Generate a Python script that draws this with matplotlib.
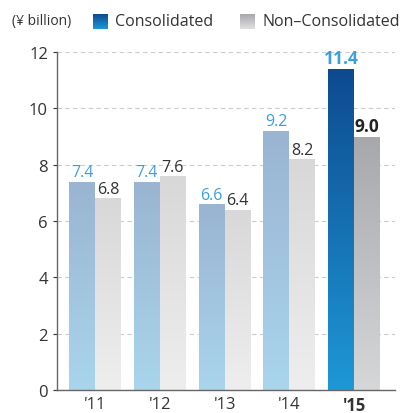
import matplotlib
matplotlib.use("Agg")
import matplotlib.pyplot as plt
import numpy as np
from matplotlib.colors import LinearSegmentedColormap

plt.rcParams['font.family'] = ['Open Sans', 'DejaVu Sans']

years = ["'11", "'12", "'13", "'14", "'15"]
consolidated = [7.4, 7.4, 6.6, 9.2, 11.4]
non_consolidated = [6.8, 7.6, 6.4, 8.2, 9.0]

fig = plt.figure(figsize=(4.01, 4.14), dpi=100)
ax = fig.add_axes([57/401, 1-391/414, (395-57)/401, (391-53)/414])

x = np.arange(len(years))
w = 0.4

def grad_bar(ax, x0, h, top, bottom):
    cmap = LinearSegmentedColormap.from_list('g', [bottom, top])
    grad = np.linspace(0, 1, 256).reshape(-1, 1)
    im = ax.imshow(grad, extent=[x0, x0 + w, 0, h], origin='lower', aspect='auto',
                   cmap=cmap, zorder=2)
    rect = plt.Rectangle((x0, 0), w, h, transform=ax.transData, facecolor='none', edgecolor='none')
    ax.add_patch(rect)
    im.set_clip_path(rect)

for i in range(len(years)):
    last = i == len(years) - 1
    if last:
        ct, cb = '#0d4a8f', '#1e98d6'
        nt, nb = '#a7a8ac', '#d6d7d9'
    else:
        ct, cb = '#9ab4d2', '#a9d5ed'
        nt, nb = '#d8d8d9', '#eeeeef'
    grad_bar(ax, x[i] - w, consolidated[i], ct, cb)
    grad_bar(ax, x[i], non_consolidated[i], nt, nb)
    fw = 'bold' if last else 'normal'
    fs = 12.5 if last else 11.5
    ax.text(x[i] - w/2, consolidated[i] + 0.05, f"{consolidated[i]:.1f}", ha='center', va='bottom',
            color='#3aa0dc', fontsize=fs, fontweight=fw)
    ax.text(x[i] + w/2, non_consolidated[i] + 0.05, f"{non_consolidated[i]:.1f}", ha='center', va='bottom',
            color='#222222' if last else '#333333', fontsize=fs, fontweight=fw)

ax.set_xlim(-0.585, 4.63)
ax.set_ylim(0, 12)
ax.set_yticks(range(0, 13, 2))
ax.set_xticks(x)
ax.set_xticklabels(years)
for lbl in ax.get_xticklabels():
    if lbl.get_text() == "'15":
        lbl.set_fontweight('bold')
ax.tick_params(axis='x', length=0, labelsize=12, colors='#333333', pad=4)
ax.tick_params(axis='y', length=3, labelsize=12, colors='#333333', direction='out', width=0.8)
ax.yaxis.grid(True, linestyle=(0, (4, 3)), color='#cccccc', linewidth=0.8, zorder=0)
ax.set_axisbelow(True)
for s in ['top', 'right']:
    ax.spines[s].set_visible(False)
for s in ['left', 'bottom']:
    ax.spines[s].set_color('#666666')
    ax.spines[s].set_linewidth(1)

# legend
fig.text(12/401, 1-22/414, "(¥ billion)", fontsize=10, color='#333333', va='center')
def grad_square(x0, y0, top, bottom):
    lax = fig.add_axes([x0/401, 1-(y0+15)/414, 15/401, 15/414])
    cmap = LinearSegmentedColormap.from_list('g', [bottom, top])
    lax.imshow(np.linspace(0, 1, 64).reshape(-1, 1), origin='lower', aspect='auto', cmap=cmap)
    lax.axis('off')
grad_square(93, 15, '#0d4a8f', '#1e98d6')
fig.text(115/401, 1-22/414, "Consolidated", fontsize=11.5, color='#333333', va='center')
grad_square(240, 15, '#a7a8ac', '#e0e0e2')
fig.text(263/401, 1-22/414, "Non–Consolidated", fontsize=11.5, color='#333333', va='center')

fig.savefig('out.png', dpi=100)
